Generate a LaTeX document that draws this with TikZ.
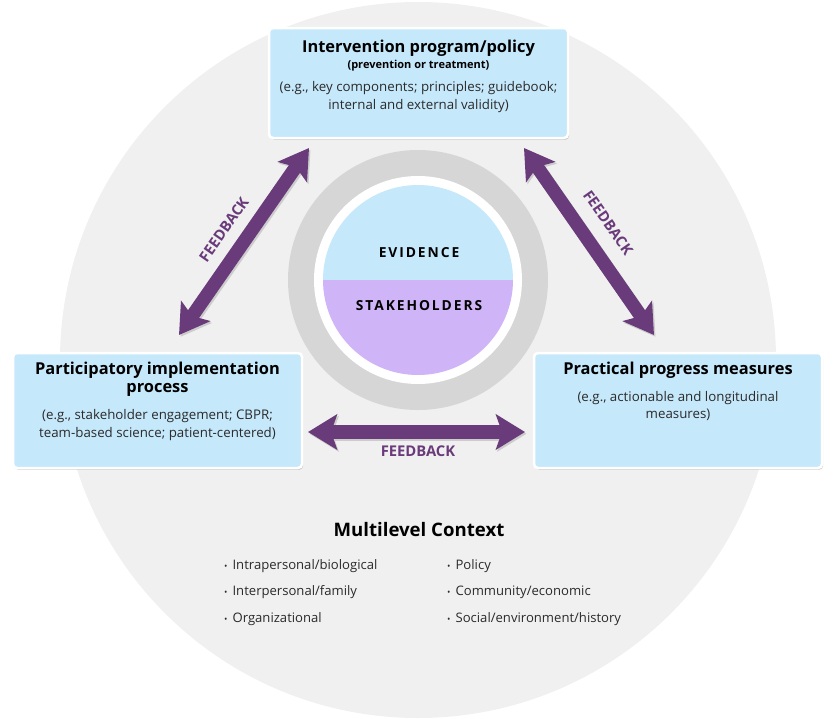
\documentclass[tikz,border=0pt]{standalone}
\usepackage{fontspec}
\setmainfont{Open Sans}
\usetikzlibrary{arrows.meta,shadows}
\definecolor{bgc}{HTML}{F0F0F0}
\definecolor{ringc}{HTML}{D6D6D6}
\definecolor{boxc}{HTML}{C6E8FB}
\definecolor{purp}{HTML}{CFB4F7}
\definecolor{arrc}{HTML}{6A3B7A}
\definecolor{txt}{HTML}{2A2A2A}
\newcommand{\ctxbullet}{{\fontsize{9}{9}\selectfont •}\hspace{5pt}}
\begin{document}
\begin{tikzpicture}[x=1pt,y=-1pt,
  panel/.style={draw=white, line width=2.5pt, fill=boxc, rounded corners=4pt, inner sep=0pt,
    drop shadow={shadow xshift=1.2pt, shadow yshift=-1.8pt, fill=black, opacity=0.16}},
  txtline/.style={inner sep=0pt, text height=0.8em, text depth=0.26em},
  ttl/.style={txtline, font=\bfseries\fontsize{16.4}{19}\selectfont, text=black},
  subttl/.style={txtline, font=\bfseries\fontsize{11}{12}\selectfont, text=black},
  bdy/.style={txtline, font=\fontsize{13.3}{16}\selectfont, text=txt},
  fb/.style={txtline, font=\bfseries\fontsize{14.8}{16}\selectfont, text=arrc},
  capsword/.style={txtline, font=\bfseries\fontsize{13.8}{15}\selectfont\addfontfeature{LetterSpace=14}, text=black},
  ctxitem/.style={txtline, anchor=west, font=\fontsize{13.1}{15}\selectfont, text=txt},
  feed/.style={line width=13.5pt, draw=arrc,
    {Stealth[width=35pt,length=29pt,inset=6pt]}-{Stealth[width=35pt,length=29pt,inset=6pt]}},
  feedshadow/.style={feed, draw=black!20, transform canvas={xshift=1.5pt,yshift=-1.8pt}}
]
\useasboundingbox (0,0) rectangle (835,718);
\begin{scope}
\clip (0,0) rectangle (835,718);
\fill[bgc] (418,360) circle[radius=358];
\end{scope}
% central disc
\fill[ringc] (418,280) circle[radius=130];
\fill[white] (418,280) circle[radius=104];
\begin{scope}
\clip (418,280) circle[radius=95];
\fill[boxc] (310,170) rectangle (530,280);
\fill[purp] (310,280) rectangle (530,390);
\end{scope}
\node[capsword] (ev) at (419,255) {EVIDENCE};
\node[capsword] (st) at (419,308) {STAKEHOLDERS};
% arrow end points
\coordinate (la1) at (309,148);
\coordinate (la2) at (179,335);
\coordinate (ra1) at (524,148);
\coordinate (ra2) at (654,335);
\coordinate (ha1) at (308,432);
\coordinate (ha2) at (525,432);
\draw[feedshadow] (la1) -- (la2);
\draw[feedshadow] (ra1) -- (ra2);
\draw[feedshadow] (ha1) -- (ha2);
\draw[feed] (la1) -- (la2);
\draw[feed] (ra1) -- (ra2);
\draw[feed] (ha1) -- (ha2);
\node[fb, rotate=55] (fbl) at (226,231) {FEEDBACK};
\node[fb, rotate=-55] (fbr) at (606,224) {FEEDBACK};
\node[fb] (fbh) at (418,454) {FEEDBACK};
% boxes
\node[panel, minimum width=299pt, minimum height=110pt] (top) at (418.5,83) {};
\node[panel, minimum width=289pt, minimum height=115pt] (left) at (157.5,410.5) {};
\node[panel, minimum width=288pt, minimum height=115pt] (right) at (678,410.5) {};
% top box text
\node[ttl] (t1) at (418.5,50) {Intervention program/policy};
\node[subttl] (t2) at (418.5,66) {(prevention or treatment)};
\node[bdy] (t3) at (418.5,89) {(e.g., key components; principles; guidebook;};
\node[bdy] (t4) at (418.5,107) {internal and external validity)};
% left box text
\node[ttl] (l1) at (157.5,372) {Participatory implementation};
\node[ttl] (l2) at (157.5,390) {process};
\node[bdy] (l3) at (157.5,417) {(e.g., stakeholder engagement; CBPR;};
\node[bdy] (l4) at (157.5,435) {team-based science; patient-centered)};
% right box text
\node[ttl] (r1) at (678,372) {Practical progress measures};
\node[bdy] (r2) at (678,399) {(e.g., actionable and longitudinal};
\node[bdy] (r3) at (678,416) {measures)};
% context
\node[txtline, font=\bfseries\fontsize{18.6}{21}\selectfont, text=black] (mc) at (419,534) {Multilevel Context};
\node[ctxitem] (c1) at (224,567) {\ctxbullet Intrapersonal/biological};
\node[ctxitem] (c2) at (224,593) {\ctxbullet Interpersonal/family};
\node[ctxitem] (c3) at (224,620) {\ctxbullet Organizational};
\node[ctxitem] (c4) at (447,567) {\ctxbullet Policy};
\node[ctxitem] (c5) at (447,593) {\ctxbullet Community/economic};
\node[ctxitem] (c6) at (447,620) {\ctxbullet Social/environment/history};
\end{tikzpicture}
\end{document}
